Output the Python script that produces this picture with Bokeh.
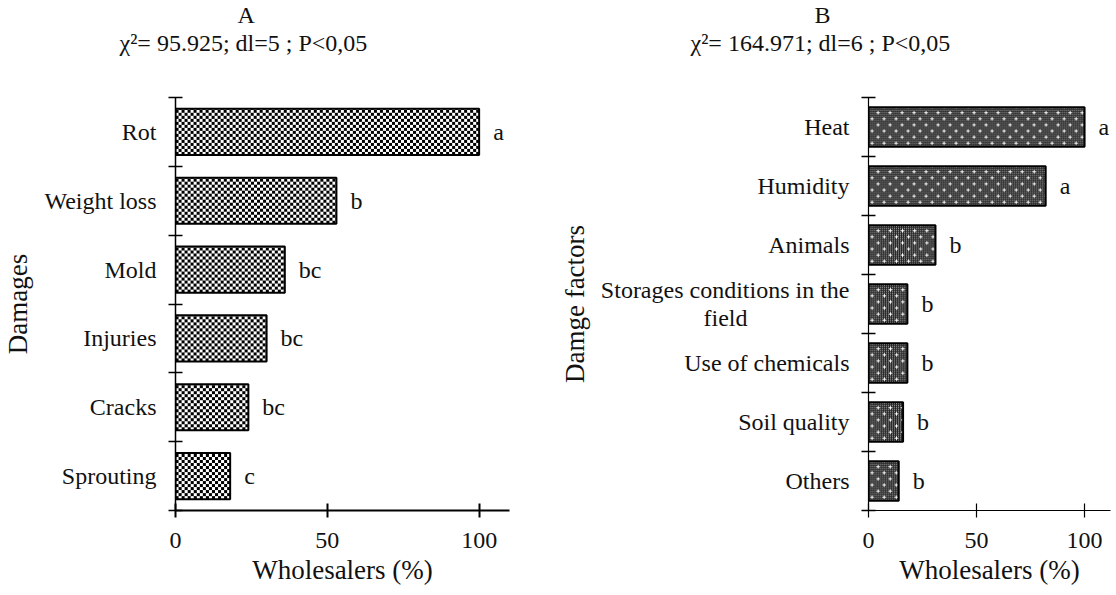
import numpy as np
from bokeh.plotting import figure
from bokeh.layouts import row
from bokeh.models import (ColumnDataSource, FixedTicker, LabelSet, Title,
                          Range1d)
from bokeh.embed import file_html
from bokeh.resources import INLINE

# ---------------- data ----------------
damages = ["Rot", "Weight loss", "Mold", "Injuries", "Cracks", "Sprouting"]
damages_pct = [100, 53, 36, 30, 24, 18]
damages_letters = ["a", "b", "bc", "bc", "bc", "c"]

factors = ["Heat", "Humidity", "Animals",
           "Storages conditions in the\nfield" + "\u00a0" * 17,
           "Use of chemicals", "Soil quality", "Others"]
factors_pct = [100, 82, 31, 18, 18, 16, 14]
factors_letters = ["a", "a", "b", "b", "b", "b", "b"]

x_ticks = [0, 50, 100]
title_a = ["A", "χ²= 95.925; dl=5 ; P<0,05"]
title_b = ["B", "χ²= 164.971; dl=6 ; P<0,05"]

FONT = "Liberation Serif"
FRAME_H = 413
BAR_H = 0.67


# ---------------- fill patterns (styling only) ----------------
def tile_checker(h, w):
    ii, jj = np.mgrid[0:h, 0:w]
    a = np.full((h, w), 0xFFFFFFFF, dtype=np.uint32)
    a[((ii // 3) + (jj // 3)) % 2 == 0] = 0xFF000000
    return a


def tile_dots(h, w):
    a = np.full((h, w), 0xFF262626, dtype=np.uint32)
    ii, jj = np.mgrid[0:h, 0:w]
    a[(ii % 2 == 1) & (jj % 2 == 1)] = 0xFFB0B0B0
    m = ((ii % 12 == 3) & (np.abs((jj % 12) - 3) <= 1)) | \
        ((jj % 12 == 3) & (np.abs((ii % 12) - 3) <= 1)) | \
        ((ii % 12 == 9) & (np.abs((jj % 12) - 9) <= 1)) | \
        ((jj % 12 == 9) & (np.abs((ii % 12) - 9) <= 1))
    a[m] = 0xFFFFFFFF
    return a


def make_fig(cats, vals, letters, tile, titles, title_offsets,
             min_left, frame_w, xmax, right_border, axis_label, xw, yw):
    ncat = len(cats)
    p = figure(frame_width=frame_w, frame_height=FRAME_H,
               x_range=Range1d(0, xmax), y_range=Range1d(0, ncat),
               output_backend="svg", toolbar_location=None,
               min_border_left=min_left, min_border_right=right_border,
               min_border_top=96, min_border_bottom=60)
    p.outline_line_color = None
    p.xgrid.visible = False
    p.ygrid.visible = False
    p.background_fill_color = "white"
    p.border_fill_color = "white"

    ys = [ncat - i - 0.5 for i in range(ncat)]
    src = ColumnDataSource(dict(y=ys, v=vals, lab=letters))

    pxu_x = frame_w / float(xmax)
    pxu_y = FRAME_H / ncat
    imgs, y0s, dhs = [], [], []
    for y, v in zip(ys, vals):
        w = max(1, int(round(v * pxu_x)))
        h = max(1, int(round(BAR_H * pxu_y)))
        imgs.append(tile(h, w))
        y0s.append(y - BAR_H / 2)
        dhs.append(BAR_H)
    p.image_rgba(image=imgs, x=[0] * ncat, y=y0s, dw=vals, dh=dhs)
    p.hbar(y="y", right="v", left=0, height=BAR_H, source=src,
           fill_color=None, line_color="black", line_width=2)
    p.add_layout(LabelSet(x="v", y="y", text="lab", source=src,
                          x_offset=14, text_baseline="middle",
                          text_font=FONT, text_font_size="24px",
                          text_color="#111111"))

    ya = p.yaxis[0]
    ya.ticker = FixedTicker(ticks=ys, minor_ticks=list(range(ncat + 1)))
    ya.major_label_overrides = {y: c for y, c in zip(ys, cats)}
    ya.major_tick_line_color = None
    ya.major_tick_in = 0
    ya.major_tick_out = 0
    ya.minor_tick_in = 7
    ya.minor_tick_out = 7
    ya.minor_tick_line_color = "black"
    ya.minor_tick_line_width = 1.5
    ya.axis_line_width = yw
    ya.axis_line_color = "black"
    ya.major_label_standoff = 12
    ya.major_label_text_font = FONT
    ya.major_label_text_font_size = "24px"
    ya.major_label_text_line_height = 1.05
    ya.major_label_text_color = "#111111"
    ya.axis_label = axis_label[1]
    ya.axis_label_text_font = FONT
    ya.axis_label_text_font_size = "27px"
    ya.axis_label_text_font_style = "normal"
    ya.axis_label_text_color = "#111111"
    ya.axis_label_standoff = 8

    xa = p.xaxis[0]
    xa.ticker = FixedTicker(ticks=x_ticks)
    xa.major_tick_in = 7
    xa.major_tick_out = 7
    xa.major_tick_line_width = xw
    xa.axis_line_width = xw
    xa.axis_line_color = "black"
    xa.major_tick_line_color = "black"
    xa.minor_tick_line_color = None
    xa.major_label_standoff = 15
    xa.major_label_text_font = FONT
    xa.major_label_text_font_size = "24px"
    xa.major_label_text_color = "#111111"
    xa.axis_label = axis_label[0]
    xa.axis_label_text_font = FONT
    xa.axis_label_text_font_size = "27px"
    xa.axis_label_text_font_style = "normal"
    xa.axis_label_text_color = "#111111"
    xa.axis_label_standoff = 4

    # spacer (closest to frame), then second title line, then first line
    p.add_layout(Title(text=" ", text_font_size="2px", standoff=37),
                 "above")
    p.add_layout(Title(text=titles[1], align="left", offset=title_offsets[1],
                       standoff=0, vertical_align="middle",
                       text_font=FONT, text_font_size="24px",
                       text_font_style="normal", text_color="#111111"),
                 "above")
    p.add_layout(Title(text=titles[0], align="left", offset=title_offsets[0],
                       standoff=0, vertical_align="middle",
                       text_font=FONT, text_font_size="24px",
                       text_font_style="normal", text_color="#111111"),
                 "above")
    return p


pa = make_fig(damages, damages_pct, damages_letters, tile_checker,
              title_a, (62, -56), 171, 334, 110, 47,
              ("Wholesalers (%)", "Damages"), 2, 1.5)
pb = make_fig(factors, factors_pct, factors_letters, tile_dots,
              title_b, (-54, -178), 300, 242, 112, 4,
              ("Wholesalers (%)", "Damge factors"), 1.2, 1.2)

layout = row(pa, pb)
open("out.html", "w").write(file_html(layout, INLINE))
